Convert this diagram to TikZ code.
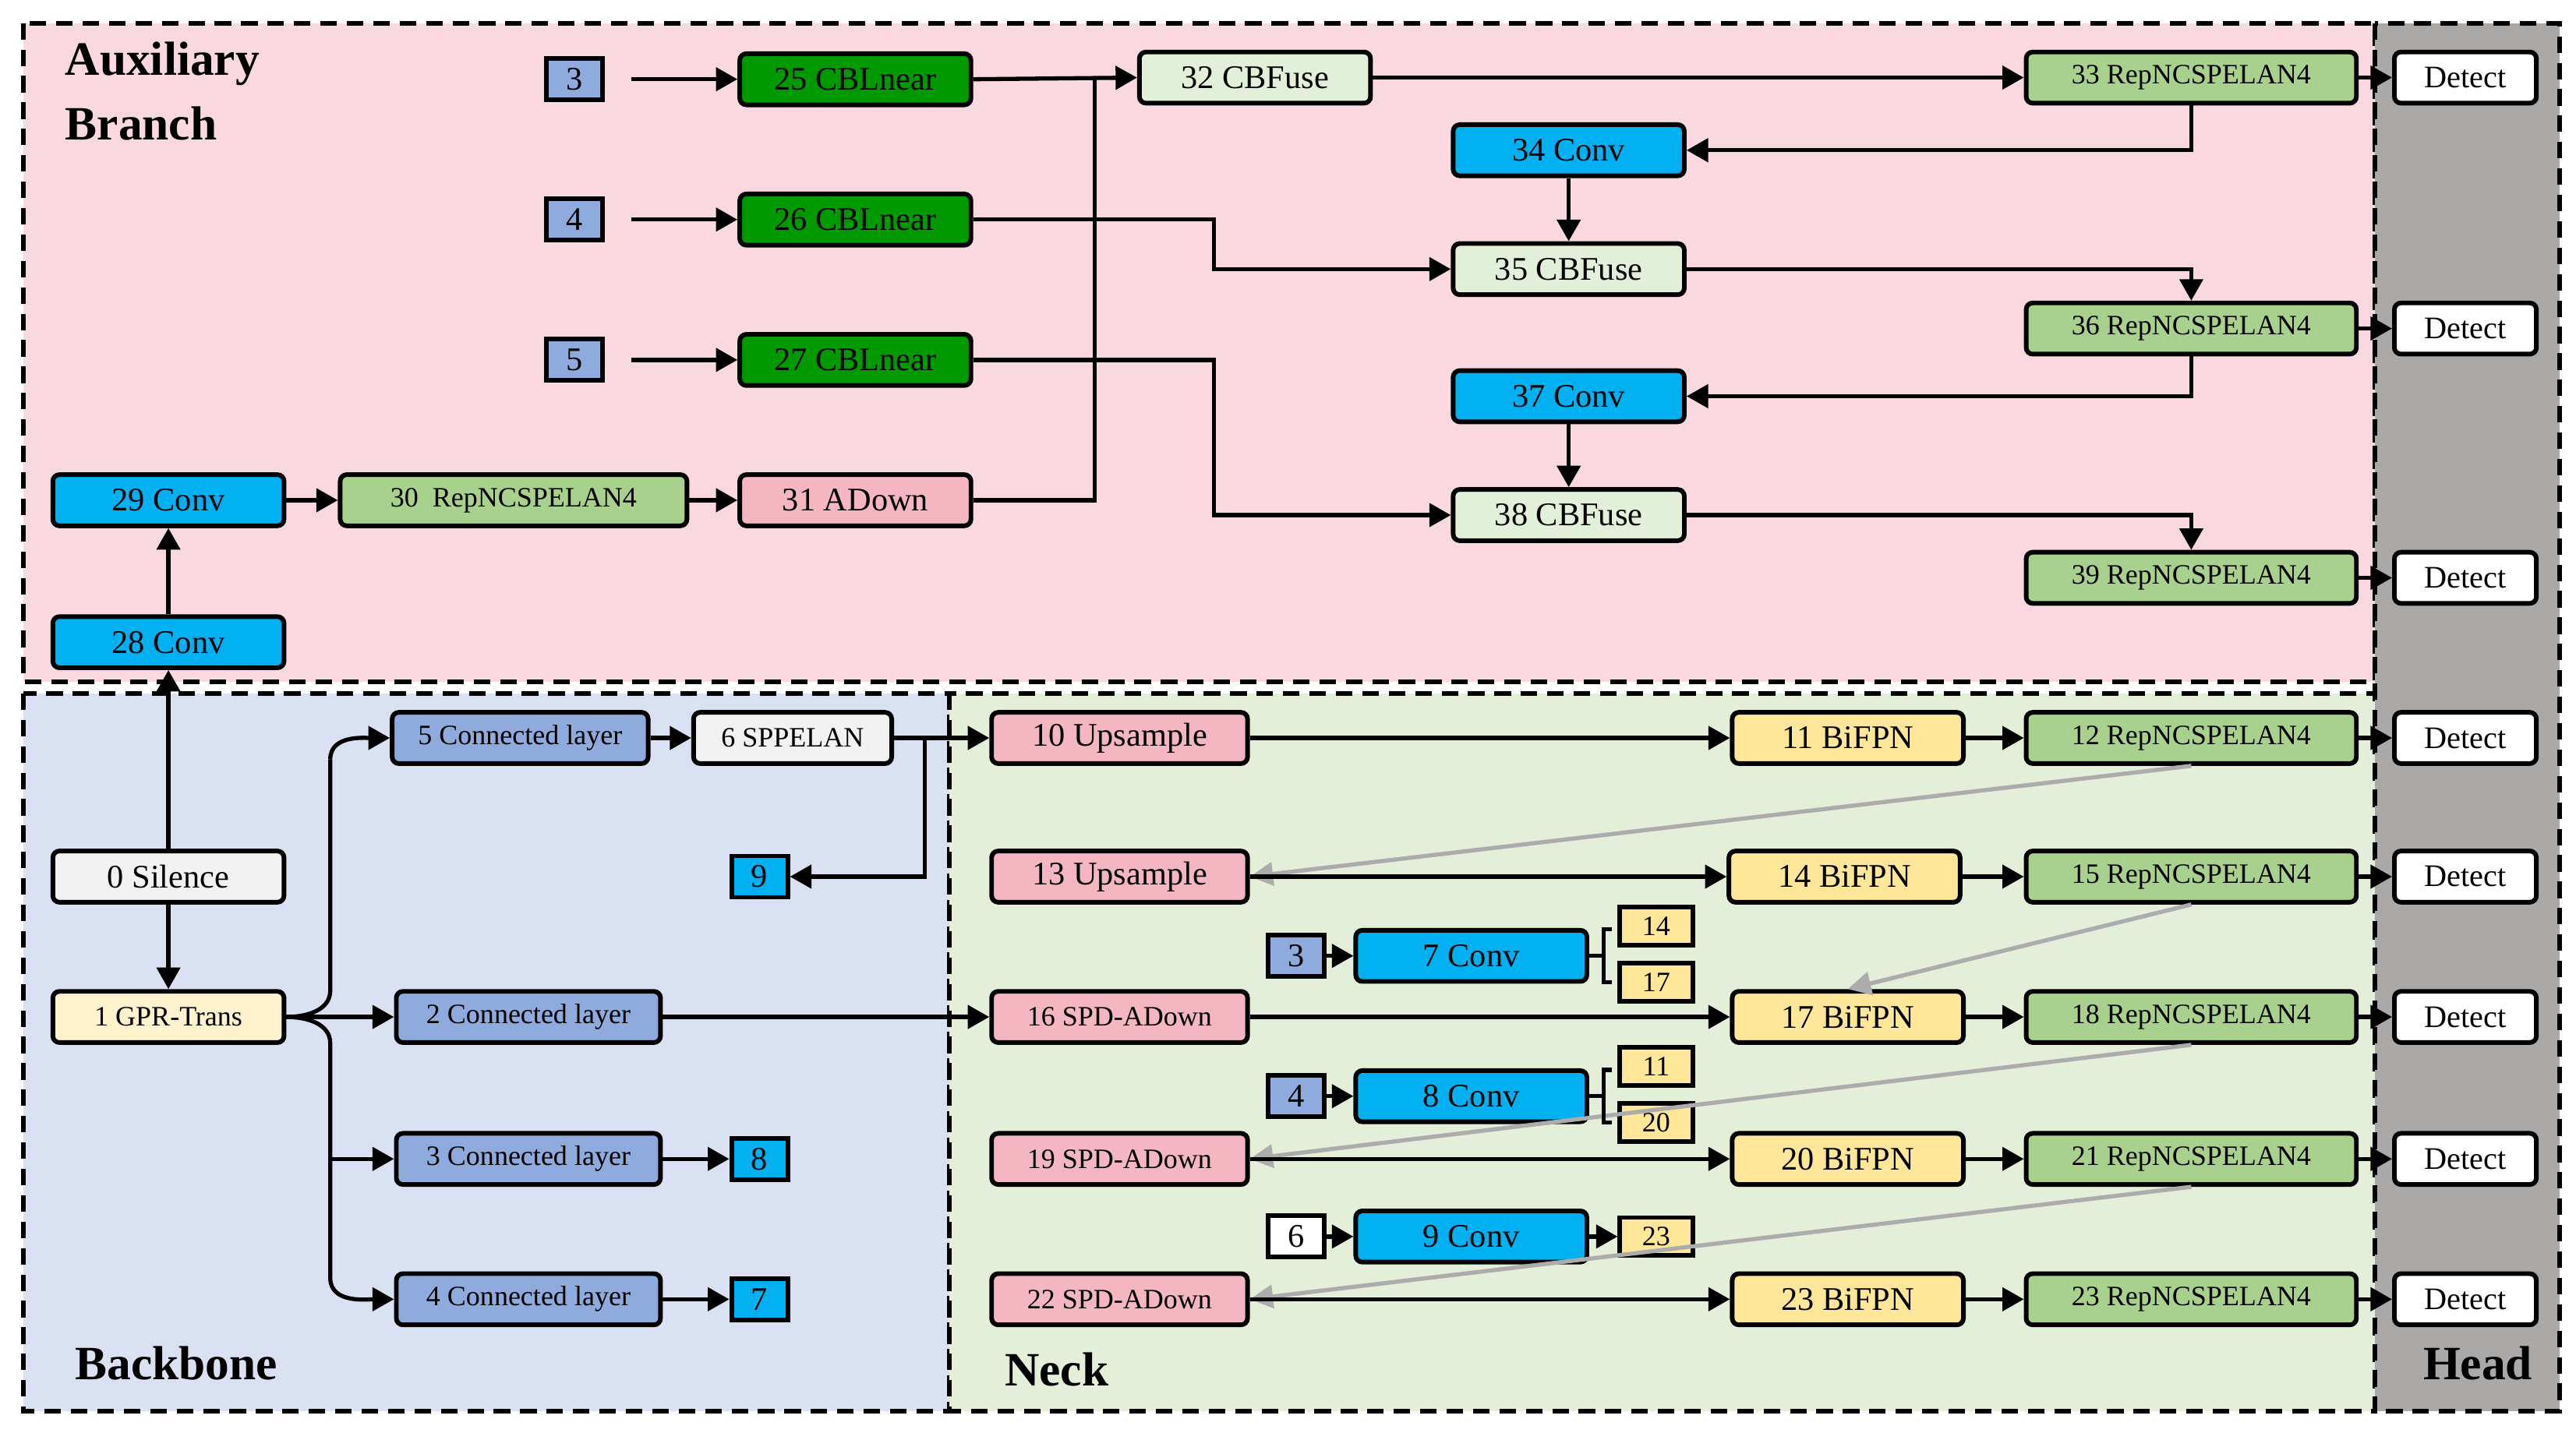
\documentclass[tikz,border=0pt]{standalone}
\usepackage{fontspec}
\setmainfont{Liberation Serif}
\usetikzlibrary{arrows.meta}
\definecolor{auxbg}{HTML}{F9D9DF}
\definecolor{bbbg}{HTML}{DAE1F3}
\definecolor{neckbg}{HTML}{E3EFD9}
\definecolor{headbg}{HTML}{ABA8A8}
\definecolor{cblue}{HTML}{00B0F0}
\definecolor{lblue}{HTML}{8FAADC}
\definecolor{dgreen}{HTML}{009900}
\definecolor{lgreen}{HTML}{A9D18E}
\definecolor{pgreen}{HTML}{E2F0D9}
\definecolor{pink}{HTML}{F4B6C0}
\definecolor{yel}{HTML}{FFE699}
\definecolor{cream}{HTML}{FFF2CC}
\definecolor{wgray}{HTML}{F2F2F2}
\tikzset{
 box/.style={draw, line width=2.8pt, rounded corners=4pt, minimum height=31pt, inner sep=0pt, font=\fontsize{20}{22}\selectfont},
 sbox/.style={draw, line width=2.8pt, minimum width=34pt, minimum height=25pt, inner sep=0pt, font=\fontsize{20}{22}\selectfont},
 ybox/.style={sbox, fill=yel, minimum width=44pt, minimum height=23pt, font=\fontsize{17}{18}\selectfont},
 small/.style={font=\fontsize{17}{18}\selectfont},
 conv/.style={box, fill=cblue, minimum width=140pt},
 rep/.style={box, fill=lgreen, minimum width=200pt, small},
 det/.style={box, fill=white, minimum width=86pt, font=\fontsize{19}{20}\selectfont},
 conn/.style={box, fill=lblue, minimum width=160pt, small},
 arr/.style={line width=2.5pt, -{Triangle[length=13pt,width=14pt]}},
 ln/.style={line width=2.5pt},
 garr/.style={line width=2.5pt, draw=gray!65, -{Triangle[length=14pt,width=14pt]}},
 region/.style={line width=2.8pt, dash pattern=on 10pt off 6pt},
 title/.style={font=\fontsize{29}{39}\selectfont\bfseries, anchor=north west, align=left}
}
\begin{document}
\begin{tikzpicture}[x=1pt,y=-1pt]
\useasboundingbox (0,0) rectangle (1560,868);
% regions
\fill[white] (0,0) rectangle (1560,868);
\draw[region, fill=auxbg] (14,14) rectangle (1438,413);
\draw[region, fill=bbbg] (14,420) rectangle (575,855);
\draw[region, fill=neckbg] (575,420) rectangle (1438,855);
\draw[region, fill=headbg] (1438,14) rectangle (1550,855);
\node[title] (tAux) at (36,22) {Auxiliary\\Branch};
\node[title] (tBb) at (42,812) {Backbone};
\node[title] (tNeck) at (605,816) {Neck};
\node[title] (tHead) at (1464,812) {Head};

% auxiliary
\node[sbox, fill=lblue] (a3) at (348,48) {3};
\node[sbox, fill=lblue] (a4) at (348,133) {4};
\node[sbox, fill=lblue] (a5) at (348,218) {5};
\node[box, fill=dgreen, minimum width=140pt] (n25) at (518,48) {25 CBLnear};
\node[box, fill=dgreen, minimum width=140pt] (n26) at (518,133) {26 CBLnear};
\node[box, fill=dgreen, minimum width=140pt] (n27) at (518,218) {27 CBLnear};
\node[conv] (n29) at (102,303) {29 Conv};
\node[rep, minimum width=210pt] (n30) at (311,303) {30\ \ RepNCSPELAN4};
\node[box, fill=pink, minimum width=140pt] (n31) at (518,303) {31 ADown};
\node[conv] (n28) at (102,389) {28 Conv};
\node[box, fill=pgreen, minimum width=140pt] (n32) at (760,47) {32 CBFuse};
\node[rep] (n33) at (1327,47) {33 RepNCSPELAN4};
\node[conv] (n34) at (950,91) {34 Conv};
\node[box, fill=pgreen, minimum width=140pt] (n35) at (950,163) {35 CBFuse};
\node[rep] (n36) at (1327,199) {36 RepNCSPELAN4};
\node[conv] (n37) at (950,240) {37 Conv};
\node[box, fill=pgreen, minimum width=140pt] (n38) at (950,312) {38 CBFuse};
\node[rep] (n39) at (1327,350) {39 RepNCSPELAN4};
\foreach \i/\y in {1/47,2/199,3/350,4/447,5/531,6/616,7/702,8/787}
  \node[det] (d\i) at (1493,\y) {Detect};

\draw[arr, shorten <=16pt] (a3) -- (n25);
\draw[arr, shorten <=16pt] (a4) -- (n26);
\draw[arr, shorten <=16pt] (a5) -- (n27);
\draw[arr] (n25.east) -- (n32.west);
\draw[ln] (n31.east) -- (663,303) -- (663,47);
\draw[arr] (n26.east) -- (735,133) |- (n35.west);
\draw[arr] (n27.east) -- (735,218) |- (n38.west);
\draw[arr] (n32) -- (n33);
\draw[arr] (n33.south) |- (n34.east);
\draw[arr] (n34) -- (n35);
\draw[arr] (n35.east) -| (n36.north);
\draw[arr] (n36.south) |- (n37.east);
\draw[arr] (n37) -- (n38);
\draw[arr] (n38.east) -| (n39.north);
\draw[arr] (n33) -- (d1);
\draw[arr] (n36) -- (d2);
\draw[arr] (n39) -- (d3);
\draw[arr] (n29) -- (n30);
\draw[arr] (n30) -- (n31);
\draw[arr] (n28) -- (n29);

% backbone
\node[box, fill=wgray, minimum width=140pt] (n0) at (102,531) {0 Silence};
\node[box, fill=cream, minimum width=140pt, small] (n1) at (102,616) {1 GPR-Trans};
\node[conn, minimum width=155pt] (n5) at (315,447) {5 Connected layer};
\node[box, fill=wgray, minimum width=120pt, small] (n6) at (480,447) {6 SPPELAN};
\node[sbox, fill=cblue] (b9) at (460,531) {9};
\node[conn] (n2) at (320,616) {2 Connected layer};
\node[conn] (n3) at (320,702) {3 Connected layer};
\node[sbox, fill=cblue] (b8) at (460,702) {8};
\node[conn] (n4) at (320,787) {4 Connected layer};
\node[sbox, fill=cblue] (b7) at (460,787) {7};
\draw[arr] (n0) -- (n28);
\draw[arr] (n0) -- (n1);
\draw[ln] (n1.east) to[out=0,in=-90] (200,600) -- (200,460);
\draw[arr] (200,460) to[out=90,in=180] (n5.west);
\draw[ln] (n1.east) to[out=0,in=90] (200,632) -- (200,774);
\draw[arr] (200,774) to[out=-90,in=180] (n4.west);
\draw[arr] (200,702) -- (n3.west);
\draw[arr] (n1.east) -- (n2.west);
\draw[arr] (n5) -- (n6);
\draw[arr] (n3) -- (b8);
\draw[arr] (n4) -- (b7);
\draw[arr] (n6.east) -- (560,447) |- (b9.east);

% neck
\node[box, fill=pink, minimum width=155pt] (n10) at (678,447) {10 Upsample};
\node[box, fill=pink, minimum width=155pt] (n13) at (678,531) {13 Upsample};
\node[box, fill=pink, minimum width=155pt, small] (n16) at (678,616) {16 SPD-ADown};
\node[box, fill=pink, minimum width=155pt, small] (n19) at (678,702) {19 SPD-ADown};
\node[box, fill=pink, minimum width=155pt, small] (n22) at (678,787) {22 SPD-ADown};
\node[box, fill=yel, minimum width=140pt] (n11) at (1119,447) {11 BiFPN};
\node[box, fill=yel, minimum width=140pt] (n14) at (1117,531) {14 BiFPN};
\node[box, fill=yel, minimum width=140pt] (n17) at (1119,616) {17 BiFPN};
\node[box, fill=yel, minimum width=140pt] (n20) at (1119,702) {20 BiFPN};
\node[box, fill=yel, minimum width=140pt] (n23) at (1119,787) {23 BiFPN};
\node[rep] (n12) at (1327,447) {12 RepNCSPELAN4};
\node[rep] (n15) at (1327,531) {15 RepNCSPELAN4};
\node[rep] (n18) at (1327,616) {18 RepNCSPELAN4};
\node[rep] (n21) at (1327,702) {21 RepNCSPELAN4};
\node[rep] (n23r) at (1327,787) {23 RepNCSPELAN4};
\node[sbox, fill=lblue] (c3) at (785,579) {3};
\node[conv] (n7) at (891,579) {7 Conv};
\node[ybox] (y14) at (1003,561) {14};
\node[ybox] (y17) at (1003,595) {17};
\node[sbox, fill=lblue] (c4) at (785,664) {4};
\node[conv] (n8) at (891,664) {8 Conv};
\node[ybox] (y11) at (1003,646) {11};
\node[ybox] (y20) at (1003,680) {20};
\node[sbox, fill=white] (c6) at (785,749) {6};
\node[conv] (n9) at (891,749) {9 Conv};
\node[ybox] (y23) at (1003,749) {23};
\draw[garr] (n12.south) -- (n13.east);
\draw[garr] (n15.south) -- (n17.north);
\draw[garr] (n18.south) -- (n19.east);
\draw[garr] (n21.south) -- (n22.east);
\draw[ln] (976,563) -- (971,563) -- (971,595) -- (976,595);
\draw[ln] (n7.east) -- (971,579);
\draw[ln] (976,648) -- (971,648) -- (971,680) -- (976,680);
\draw[ln] (n8.east) -- (971,664);
\draw[arr] (c3) -- (n7);
\draw[arr] (c4) -- (n8);
\draw[arr] (c6) -- (n9);
\draw[arr] (n9) -- (y23);

\draw[arr] (n6.east) -- (n10.west);
\draw[arr] (n2.east) -- (n16.west);
\foreach \a/\b in {n10/n11,n13/n14,n16/n17,n19/n20,n22/n23,n11/n12,n14/n15,n17/n18,n20/n21,n23/n23r,n12/d4,n15/d5,n18/d6,n21/d7,n23r/d8}
  \draw[arr] (\a) -- (\b);
\end{tikzpicture}
\end{document}
